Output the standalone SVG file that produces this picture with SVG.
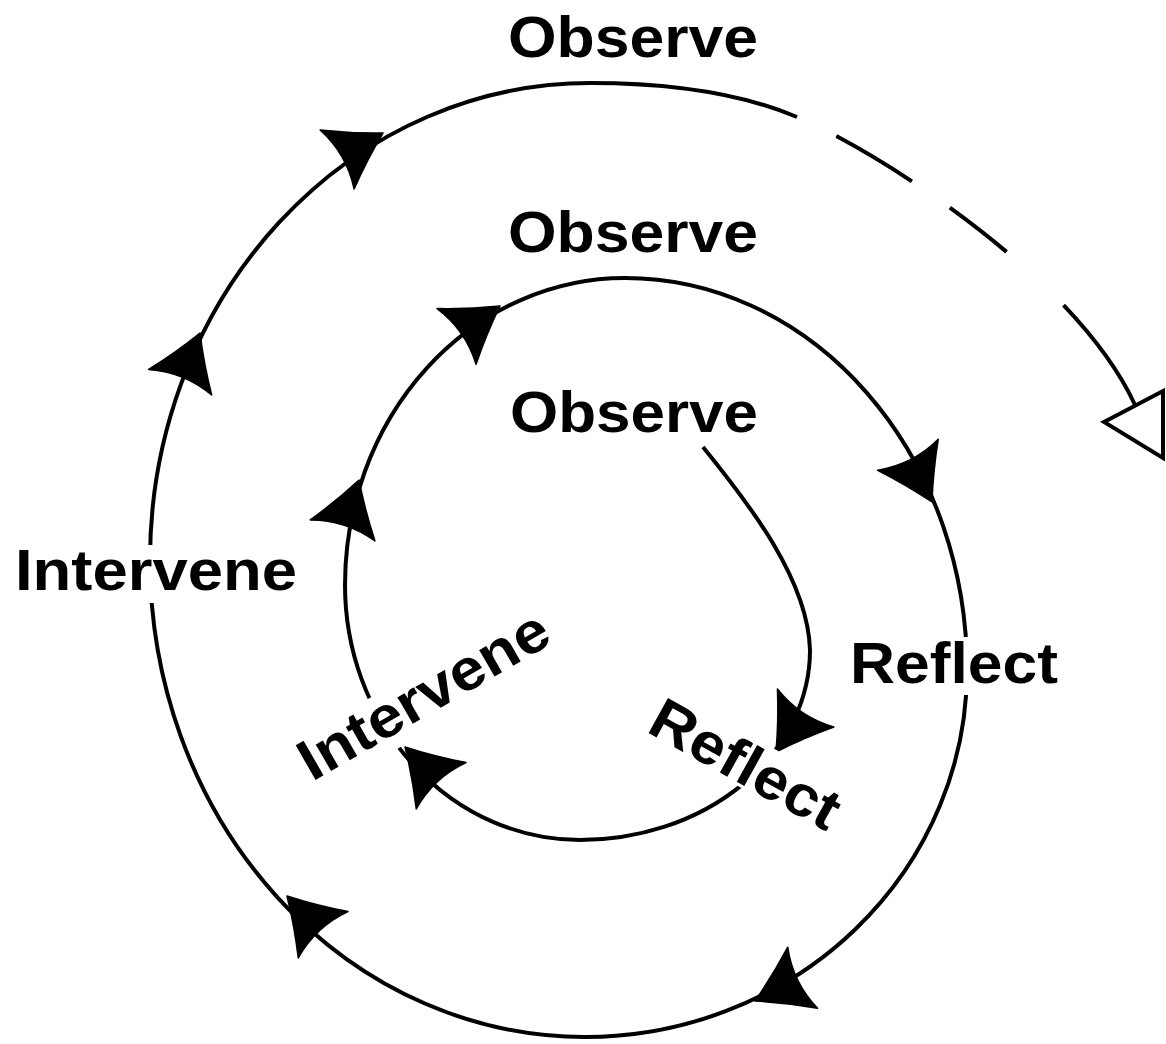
<svg xmlns="http://www.w3.org/2000/svg" xmlns:xlink="http://www.w3.org/1999/xlink" width="1166" height="1044" viewBox="0 0 1166 1044">
<style>
.line{fill:none;stroke:#000;stroke-width:4;stroke-linecap:butt}
.dash{fill:none;stroke:#000;stroke-width:4;stroke-dasharray:0 44 88 46 72 78 200}
.head{fill:#000;stroke:#000;stroke-width:1.5;stroke-linejoin:round}
.hollow{fill:#fff;stroke:#000;stroke-width:4;stroke-linejoin:miter}
.lbl{font-family:"Liberation Sans",Arial,Helvetica,sans-serif;font-weight:bold;font-size:58px;fill:#000}
.bg{fill:#fff}
</style>
<defs>
<path id="ah" d="M0,0 Q-27,-15 -53,-34 Q-42,0 -53,34 Q-27,15 0,0Z"/>
</defs>
<rect width="1166" height="1044" fill="#fff"/>
<g id="connectors">
<path id="spiral" class="line" d="M703,447 C750,505 808,580 810,650 A230,190 0 0 1 580,840 A235,255 0 0 1 345,585 A280,307 0 0 1 625,278 A342,392 0 0 1 967,670 A382,367 0 0 1 585,1037 A435,477 0 0 1 150,560 A440,477 0 0 1 590,83 C680,83 745,95 797,117"/>
<path id="spiral-dashed" class="dash" d="M797,117 C875,150 1075,275 1135,405"/>
<polygon id="hollow-head" class="hollow" points="1104,422 1163,391 1163,458"/>
<g class="head">
<use xlink:href="#ah" href="#ah" transform="translate(776,752) rotate(124)"/>
<use xlink:href="#ah" href="#ah" transform="translate(405,747) rotate(-133)"/>
<use xlink:href="#ah" href="#ah" transform="translate(359,480) rotate(-72)"/>
<use xlink:href="#ah" href="#ah" transform="translate(500,306) rotate(-35)"/>
<use xlink:href="#ah" href="#ah" transform="translate(932,502) rotate(63)"/>
<use xlink:href="#ah" href="#ah" transform="translate(755,1001) rotate(154)"/>
<use xlink:href="#ah" href="#ah" transform="translate(287,896) rotate(-133)"/>
<use xlink:href="#ah" href="#ah" transform="translate(200,333) rotate(-68)"/>
<use xlink:href="#ah" href="#ah" transform="translate(383,133) rotate(-30)"/>
</g>
</g>
<g id="observe-outer"><text class="lbl" x="508" y="57" textLength="250" lengthAdjust="spacingAndGlyphs">Observe</text></g>
<g id="observe-middle"><text class="lbl" x="508" y="252" textLength="250" lengthAdjust="spacingAndGlyphs">Observe</text></g>
<g id="observe-inner"><text class="lbl" x="510" y="432" textLength="248" lengthAdjust="spacingAndGlyphs">Observe</text></g>
<g id="intervene-outer"><rect class="bg" x="8" y="545" width="296" height="58"/><text class="lbl" x="15" y="590" textLength="282" lengthAdjust="spacingAndGlyphs">Intervene</text></g>
<g id="reflect-outer"><rect class="bg" x="845" y="637" width="220" height="58"/><text class="lbl" x="850" y="683" textLength="208" lengthAdjust="spacingAndGlyphs">Reflect</text></g>
<g id="intervene-inner" transform="translate(312,782) rotate(-30)"><rect class="bg" x="-4" y="-44" width="292" height="58"/><text class="lbl" x="0" y="0" textLength="280" lengthAdjust="spacingAndGlyphs">Intervene</text></g>
<g id="reflect-inner" transform="translate(645,731) rotate(29)"><rect class="bg" x="-4" y="-47" width="216" height="50"/><text class="lbl" x="0" y="0" textLength="208" lengthAdjust="spacingAndGlyphs">Reflect</text></g>
</svg>
